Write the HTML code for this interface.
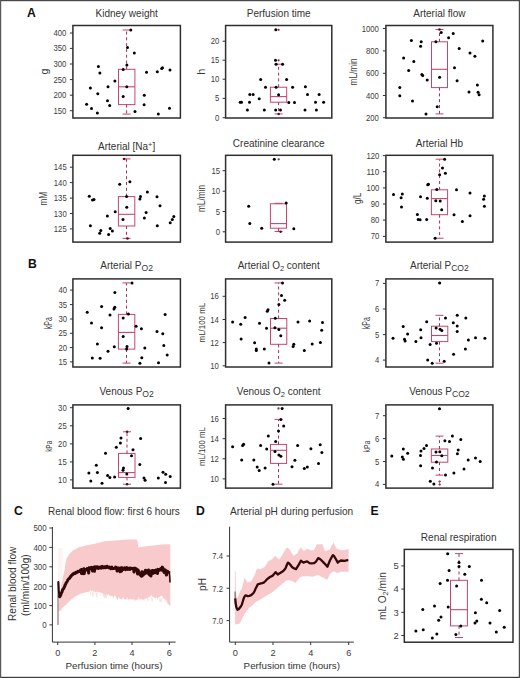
<!DOCTYPE html>
<html><head><meta charset="utf-8"><title>Figure</title>
<style>html,body{margin:0;padding:0;background:#fff;}body{width:520px;height:678px;overflow:hidden;font-family:"Liberation Sans", sans-serif;}svg{display:block;}</style>
</head><body>
<svg width="520" height="678" viewBox="0 0 520 678" font-family='"Liberation Sans", sans-serif'><rect x="0" y="0" width="520" height="678" fill="#fff"/>
<text x="126.65" y="16.6" text-anchor="middle" font-size="10" fill="#333" xml:space="preserve"><tspan dy="0">Kidney weight</tspan></text>
<line x1="69.9" y1="33" x2="72.9" y2="33" stroke="#333" stroke-width="1"/>
<text x="66.3" y="36" text-anchor="end" font-size="8.8" fill="#3c3c3c" textLength="12.9" lengthAdjust="spacingAndGlyphs">400</text>
<line x1="69.9" y1="48.4" x2="72.9" y2="48.4" stroke="#333" stroke-width="1"/>
<text x="66.3" y="51.4" text-anchor="end" font-size="8.8" fill="#3c3c3c" textLength="12.9" lengthAdjust="spacingAndGlyphs">350</text>
<line x1="69.9" y1="64" x2="72.9" y2="64" stroke="#333" stroke-width="1"/>
<text x="66.3" y="67" text-anchor="end" font-size="8.8" fill="#3c3c3c" textLength="12.9" lengthAdjust="spacingAndGlyphs">300</text>
<line x1="69.9" y1="79.6" x2="72.9" y2="79.6" stroke="#333" stroke-width="1"/>
<text x="66.3" y="82.6" text-anchor="end" font-size="8.8" fill="#3c3c3c" textLength="12.9" lengthAdjust="spacingAndGlyphs">250</text>
<line x1="69.9" y1="95.2" x2="72.9" y2="95.2" stroke="#333" stroke-width="1"/>
<text x="66.3" y="98.2" text-anchor="end" font-size="8.8" fill="#3c3c3c" textLength="12.9" lengthAdjust="spacingAndGlyphs">200</text>
<line x1="69.9" y1="110.7" x2="72.9" y2="110.7" stroke="#333" stroke-width="1"/>
<text x="66.3" y="113.7" text-anchor="end" font-size="8.8" fill="#3c3c3c" textLength="12.9" lengthAdjust="spacingAndGlyphs">150</text>
<text transform="translate(44.64,71.49) rotate(-90)" text-anchor="middle" font-size="10.61" fill="#3c3c3c" y="3.1">g</text>
<g stroke="#c4466c" fill="none">
<rect x="118.5" y="69.3" width="16.4" height="35.3" stroke-width="1"/>
<line x1="118.5" y1="86.8" x2="134.9" y2="86.8" stroke-width="1.1"/>
<line x1="126.6" y1="69.3" x2="126.6" y2="30" stroke-width="1" stroke="#a83050" stroke-dasharray="3,2.8"/>
<line x1="126.6" y1="104.6" x2="126.6" y2="114.1" stroke-width="1" stroke="#a83050" stroke-dasharray="3,2.8"/>
<line x1="122.6" y1="30" x2="130.6" y2="30" stroke-width="1"/>
<line x1="122.6" y1="114.1" x2="130.6" y2="114.1" stroke-width="1"/>
</g>
<g fill="#000"><circle cx="130.8" cy="29.9" r="1.5"/><circle cx="127.5" cy="47.4" r="1.5"/><circle cx="134.3" cy="53.1" r="1.5"/><circle cx="98.4" cy="66.5" r="1.5"/><circle cx="126.9" cy="65.1" r="1.5"/><circle cx="123.2" cy="69.4" r="1.5"/><circle cx="99.9" cy="73.1" r="1.5"/><circle cx="146.5" cy="72.2" r="1.5"/><circle cx="157.3" cy="71.8" r="1.5"/><circle cx="161.7" cy="68.6" r="1.5"/><circle cx="162.5" cy="67.8" r="1.5"/><circle cx="170" cy="70.1" r="1.5"/><circle cx="114.9" cy="80.9" r="1.5"/><circle cx="90.4" cy="87.9" r="1.5"/><circle cx="108" cy="86.8" r="1.5"/><circle cx="126.8" cy="86.8" r="1.5"/><circle cx="97.8" cy="93.8" r="1.5"/><circle cx="123.2" cy="96.6" r="1.5"/><circle cx="144.3" cy="95.3" r="1.5"/><circle cx="86.6" cy="104.2" r="1.5"/><circle cx="107.5" cy="100.8" r="1.5"/><circle cx="109.7" cy="105.4" r="1.5"/><circle cx="144.1" cy="104.8" r="1.5"/><circle cx="91.5" cy="108.4" r="1.5"/><circle cx="97.4" cy="112.9" r="1.5"/><circle cx="135" cy="111.4" r="1.5"/><circle cx="158.3" cy="113.9" r="1.5"/><circle cx="169.5" cy="108.2" r="1.5"/></g>
<rect x="72.9" y="25.5" width="107.5" height="92.5" fill="none" stroke="#2e2e2e" stroke-width="1.5"/>
<text x="278.7" y="16.8" text-anchor="middle" font-size="10" fill="#333" xml:space="preserve"><tspan dy="0">Perfusion time</tspan></text>
<line x1="222.6" y1="41.2" x2="225.6" y2="41.2" stroke="#333" stroke-width="1"/>
<text x="219.3" y="44.2" text-anchor="end" font-size="8.8" fill="#3c3c3c" textLength="8.6" lengthAdjust="spacingAndGlyphs">20</text>
<line x1="222.6" y1="60.2" x2="225.6" y2="60.2" stroke="#333" stroke-width="1"/>
<text x="219.3" y="63.2" text-anchor="end" font-size="8.8" fill="#3c3c3c" textLength="8.6" lengthAdjust="spacingAndGlyphs">15</text>
<line x1="222.6" y1="79.2" x2="225.6" y2="79.2" stroke="#333" stroke-width="1"/>
<text x="219.3" y="82.2" text-anchor="end" font-size="8.8" fill="#3c3c3c" textLength="8.6" lengthAdjust="spacingAndGlyphs">10</text>
<line x1="222.6" y1="98.4" x2="225.6" y2="98.4" stroke="#333" stroke-width="1"/>
<text x="219.3" y="101.4" text-anchor="end" font-size="8.8" fill="#3c3c3c" textLength="4.3" lengthAdjust="spacingAndGlyphs">5</text>
<line x1="222.6" y1="117.7" x2="225.6" y2="117.7" stroke="#333" stroke-width="1"/>
<text x="219.3" y="120.7" text-anchor="end" font-size="8.8" fill="#3c3c3c" textLength="4.3" lengthAdjust="spacingAndGlyphs">0</text>
<text transform="translate(201.4,71.72) rotate(-90)" text-anchor="middle" font-size="10.94" fill="#3c3c3c" y="3.1">h</text>
<g stroke="#c4466c" fill="none">
<rect x="270.4" y="87.2" width="16.3" height="15" stroke-width="1"/>
<line x1="270.4" y1="96.6" x2="286.7" y2="96.6" stroke-width="1.1"/>
<line x1="278.6" y1="87.2" x2="278.6" y2="64.2" stroke-width="1" stroke="#a83050" stroke-dasharray="3,2.8"/>
<line x1="278.6" y1="102.2" x2="278.6" y2="113.9" stroke-width="1" stroke="#a83050" stroke-dasharray="3,2.8"/>
<line x1="274.6" y1="64.2" x2="282.6" y2="64.2" stroke-width="1"/>
<line x1="274.6" y1="113.9" x2="282.6" y2="113.9" stroke-width="1"/>
</g>
<circle cx="278.6" cy="29.8" r="1.15" fill="#7a3a52"/>
<circle cx="278.6" cy="60.3" r="1.15" fill="#7a3a52"/>
<circle cx="278.7" cy="113.9" r="1.25" fill="#5a0c1c"/>
<g fill="#000"><circle cx="275.8" cy="29.8" r="1.5"/><circle cx="275.5" cy="60.3" r="1.5"/><circle cx="276.1" cy="64.2" r="1.5"/><circle cx="282.6" cy="64.2" r="1.5"/><circle cx="260.7" cy="79.5" r="1.5"/><circle cx="286.6" cy="79.5" r="1.5"/><circle cx="265.5" cy="87.2" r="1.5"/><circle cx="276.1" cy="87.2" r="1.5"/><circle cx="292.6" cy="87.2" r="1.5"/><circle cx="305.4" cy="86.8" r="1.5"/><circle cx="249.8" cy="94.4" r="1.5"/><circle cx="253.1" cy="94.4" r="1.5"/><circle cx="278.6" cy="94.8" r="1.5"/><circle cx="307.5" cy="94.4" r="1.5"/><circle cx="319.1" cy="94.4" r="1.5"/><circle cx="259.2" cy="98.7" r="1.5"/><circle cx="240.2" cy="102.3" r="1.5"/><circle cx="241.5" cy="102.3" r="1.5"/><circle cx="249.5" cy="102.3" r="1.5"/><circle cx="288.8" cy="102.6" r="1.5"/><circle cx="294.5" cy="102.6" r="1.5"/><circle cx="315.5" cy="102.3" r="1.5"/><circle cx="323.6" cy="102.3" r="1.5"/><circle cx="247.4" cy="109.9" r="1.5"/><circle cx="264.3" cy="110.1" r="1.5"/><circle cx="275.7" cy="110.1" r="1.5"/><circle cx="280.5" cy="110.1" r="1.5"/><circle cx="305" cy="109.9" r="1.5"/><circle cx="316.4" cy="109.9" r="1.5"/></g>
<rect x="225.6" y="25.5" width="106.2" height="92.5" fill="none" stroke="#2e2e2e" stroke-width="1.5"/>
<text x="439.4" y="16.8" text-anchor="middle" font-size="10" fill="#333" xml:space="preserve"><tspan dy="0">Arterial flow</tspan></text>
<line x1="382.9" y1="28.5" x2="385.9" y2="28.5" stroke="#333" stroke-width="1"/>
<text x="378.9" y="31.5" text-anchor="end" font-size="8.8" fill="#3c3c3c" textLength="17.2" lengthAdjust="spacingAndGlyphs">1000</text>
<line x1="382.9" y1="50.9" x2="385.9" y2="50.9" stroke="#333" stroke-width="1"/>
<text x="378.9" y="53.9" text-anchor="end" font-size="8.8" fill="#3c3c3c" textLength="12.9" lengthAdjust="spacingAndGlyphs">800</text>
<line x1="382.9" y1="73.3" x2="385.9" y2="73.3" stroke="#333" stroke-width="1"/>
<text x="378.9" y="76.3" text-anchor="end" font-size="8.8" fill="#3c3c3c" textLength="12.9" lengthAdjust="spacingAndGlyphs">600</text>
<line x1="382.9" y1="95.5" x2="385.9" y2="95.5" stroke="#333" stroke-width="1"/>
<text x="378.9" y="98.5" text-anchor="end" font-size="8.8" fill="#3c3c3c" textLength="12.9" lengthAdjust="spacingAndGlyphs">400</text>
<line x1="382.9" y1="117.7" x2="385.9" y2="117.7" stroke="#333" stroke-width="1"/>
<text x="378.9" y="120.7" text-anchor="end" font-size="8.8" fill="#3c3c3c" textLength="12.9" lengthAdjust="spacingAndGlyphs">200</text>
<text transform="translate(353.47,71.87) rotate(-90)" text-anchor="middle" font-size="11" fill="#3c3c3c" y="3.1" textLength="27.1" lengthAdjust="spacingAndGlyphs">mL/min</text>
<g stroke="#c4466c" fill="none">
<rect x="431.5" y="41.8" width="16" height="45.8" stroke-width="1"/>
<line x1="431.5" y1="69.3" x2="447.5" y2="69.3" stroke-width="1.1"/>
<line x1="439.5" y1="41.8" x2="439.5" y2="29.5" stroke-width="1" stroke="#a83050" stroke-dasharray="3,2.8"/>
<line x1="439.5" y1="87.6" x2="439.5" y2="113.9" stroke-width="1" stroke="#a83050" stroke-dasharray="3,2.8"/>
<line x1="435.5" y1="29.5" x2="443.5" y2="29.5" stroke-width="1"/>
<line x1="435.5" y1="113.9" x2="443.5" y2="113.9" stroke-width="1"/>
</g>
<circle cx="439.5" cy="29.5" r="1.25" fill="#5a0c1c"/>
<g fill="#000"><circle cx="441.2" cy="32.6" r="1.5"/><circle cx="453.2" cy="33.6" r="1.5"/><circle cx="448.6" cy="37.8" r="1.5"/><circle cx="411.4" cy="40.5" r="1.5"/><circle cx="421.2" cy="41.8" r="1.5"/><circle cx="420.6" cy="46.3" r="1.5"/><circle cx="435.9" cy="41.8" r="1.5"/><circle cx="482.7" cy="40.9" r="1.5"/><circle cx="459.2" cy="48.4" r="1.5"/><circle cx="470" cy="53" r="1.5"/><circle cx="474.9" cy="56.2" r="1.5"/><circle cx="403.6" cy="58.1" r="1.5"/><circle cx="413.8" cy="61.4" r="1.5"/><circle cx="408.7" cy="70.5" r="1.5"/><circle cx="454.5" cy="67.7" r="1.5"/><circle cx="421.9" cy="74.4" r="1.5"/><circle cx="422.7" cy="75.6" r="1.5"/><circle cx="427.2" cy="79.9" r="1.5"/><circle cx="439.6" cy="77.2" r="1.5"/><circle cx="457.1" cy="80.8" r="1.5"/><circle cx="477.4" cy="85.1" r="1.5"/><circle cx="399.8" cy="87.5" r="1.5"/><circle cx="469" cy="92.1" r="1.5"/><circle cx="478.1" cy="92.3" r="1.5"/><circle cx="479.1" cy="94.7" r="1.5"/><circle cx="399.8" cy="95.7" r="1.5"/><circle cx="412.5" cy="101" r="1.5"/><circle cx="437.2" cy="106.7" r="1.5"/><circle cx="426" cy="114" r="1.5"/></g>
<rect x="385.9" y="25.5" width="107" height="92.5" fill="none" stroke="#2e2e2e" stroke-width="1.5"/>
<text x="126.65" y="150.1" text-anchor="middle" font-size="10" fill="#333" xml:space="preserve"><tspan dy="0">Arterial [Na</tspan><tspan font-size="7.4" dy="-3">+</tspan><tspan dy="3">]</tspan></text>
<line x1="69.9" y1="167.2" x2="72.9" y2="167.2" stroke="#333" stroke-width="1"/>
<text x="66.7" y="170.2" text-anchor="end" font-size="8.8" fill="#3c3c3c" textLength="12.9" lengthAdjust="spacingAndGlyphs">145</text>
<line x1="69.9" y1="182.6" x2="72.9" y2="182.6" stroke="#333" stroke-width="1"/>
<text x="66.7" y="185.6" text-anchor="end" font-size="8.8" fill="#3c3c3c" textLength="12.9" lengthAdjust="spacingAndGlyphs">140</text>
<line x1="69.9" y1="198.1" x2="72.9" y2="198.1" stroke="#333" stroke-width="1"/>
<text x="66.7" y="201.1" text-anchor="end" font-size="8.8" fill="#3c3c3c" textLength="12.9" lengthAdjust="spacingAndGlyphs">135</text>
<line x1="69.9" y1="213.5" x2="72.9" y2="213.5" stroke="#333" stroke-width="1"/>
<text x="66.7" y="216.5" text-anchor="end" font-size="8.8" fill="#3c3c3c" textLength="12.9" lengthAdjust="spacingAndGlyphs">130</text>
<line x1="69.9" y1="228.9" x2="72.9" y2="228.9" stroke="#333" stroke-width="1"/>
<text x="66.7" y="231.9" text-anchor="end" font-size="8.8" fill="#3c3c3c" textLength="12.9" lengthAdjust="spacingAndGlyphs">125</text>
<text transform="translate(44.34,198.66) rotate(-90)" text-anchor="middle" font-size="10" fill="#3c3c3c" y="3.1" textLength="13.78" lengthAdjust="spacingAndGlyphs">mM</text>
<g stroke="#c4466c" fill="none">
<rect x="118.4" y="196.6" width="16.4" height="29.4" stroke-width="1"/>
<line x1="118.4" y1="214.3" x2="134.8" y2="214.3" stroke-width="1.1"/>
<line x1="126.5" y1="196.6" x2="126.5" y2="158.9" stroke-width="1" stroke="#a83050" stroke-dasharray="3,2.8"/>
<line x1="126.5" y1="226" x2="126.5" y2="238.4" stroke-width="1" stroke="#a83050" stroke-dasharray="3,2.8"/>
<line x1="122.5" y1="158.9" x2="130.5" y2="158.9" stroke-width="1"/>
<line x1="122.5" y1="238.4" x2="130.5" y2="238.4" stroke-width="1"/>
</g>
<circle cx="124.2" cy="158.9" r="1.25" fill="#5a0c1c"/>
<circle cx="127.5" cy="238.4" r="1.25" fill="#5a0c1c"/>
<g fill="#000"><circle cx="129.9" cy="181.7" r="1.5"/><circle cx="119.7" cy="184.3" r="1.5"/><circle cx="147.4" cy="191.9" r="1.5"/><circle cx="89.3" cy="196.3" r="1.5"/><circle cx="92.5" cy="199.9" r="1.5"/><circle cx="94" cy="199.5" r="1.5"/><circle cx="126.6" cy="196.6" r="1.5"/><circle cx="140.5" cy="196.4" r="1.5"/><circle cx="139.9" cy="199" r="1.5"/><circle cx="157" cy="196.7" r="1.5"/><circle cx="126.8" cy="207.2" r="1.5"/><circle cx="160" cy="205.8" r="1.5"/><circle cx="115.2" cy="211.7" r="1.5"/><circle cx="146.1" cy="212.4" r="1.5"/><circle cx="107.4" cy="216.1" r="1.5"/><circle cx="144.4" cy="217.9" r="1.5"/><circle cx="173.8" cy="216.6" r="1.5"/><circle cx="172.3" cy="219.4" r="1.5"/><circle cx="170.2" cy="222.8" r="1.5"/><circle cx="123" cy="219.5" r="1.5"/><circle cx="90.4" cy="225.7" r="1.5"/><circle cx="157.3" cy="225.7" r="1.5"/><circle cx="100.8" cy="230.4" r="1.5"/><circle cx="99.7" cy="233.3" r="1.5"/><circle cx="110.2" cy="228.4" r="1.5"/><circle cx="112.4" cy="230.9" r="1.5"/><circle cx="108.6" cy="234.5" r="1.5"/></g>
<rect x="72.9" y="155.3" width="107.5" height="86.8" fill="none" stroke="#2e2e2e" stroke-width="1.5"/>
<text x="278.7" y="146.9" text-anchor="middle" font-size="10" fill="#333" xml:space="preserve"><tspan dy="0">Creatinine clearance</tspan></text>
<line x1="222.6" y1="170.7" x2="225.6" y2="170.7" stroke="#333" stroke-width="1"/>
<text x="220.1" y="173.7" text-anchor="end" font-size="8.8" fill="#3c3c3c" textLength="8.6" lengthAdjust="spacingAndGlyphs">15</text>
<line x1="222.6" y1="191.2" x2="225.6" y2="191.2" stroke="#333" stroke-width="1"/>
<text x="220.1" y="194.2" text-anchor="end" font-size="8.8" fill="#3c3c3c" textLength="8.6" lengthAdjust="spacingAndGlyphs">10</text>
<line x1="222.6" y1="211.5" x2="225.6" y2="211.5" stroke="#333" stroke-width="1"/>
<text x="220.1" y="214.5" text-anchor="end" font-size="8.8" fill="#3c3c3c" textLength="4.3" lengthAdjust="spacingAndGlyphs">5</text>
<line x1="222.6" y1="231.8" x2="225.6" y2="231.8" stroke="#333" stroke-width="1"/>
<text x="220.1" y="234.8" text-anchor="end" font-size="8.8" fill="#3c3c3c" textLength="4.3" lengthAdjust="spacingAndGlyphs">0</text>
<text transform="translate(202.3,198.49) rotate(-90)" text-anchor="middle" font-size="10.47" fill="#3c3c3c" y="3.1" textLength="27.22" lengthAdjust="spacingAndGlyphs">mL/min</text>
<g stroke="#c4466c" fill="none">
<rect x="270.4" y="203.8" width="16.1" height="24.4" stroke-width="1"/>
<line x1="270.4" y1="223.6" x2="286.5" y2="223.6" stroke-width="1.1"/>
<line x1="278.6" y1="228.2" x2="278.6" y2="231.5" stroke-width="1" stroke="#a83050" stroke-dasharray="3,2.8"/>
<line x1="274.6" y1="203.3" x2="282.6" y2="203.3" stroke-width="1"/>
<line x1="274.6" y1="231.5" x2="282.6" y2="231.5" stroke-width="1"/>
</g>
<circle cx="278.7" cy="159.3" r="1.15" fill="#7a3a52"/>
<circle cx="280.6" cy="231.8" r="1.25" fill="#5a0c1c"/>
<g fill="#000"><circle cx="274.3" cy="159.3" r="1.5"/><circle cx="248.7" cy="206.3" r="1.5"/><circle cx="286.2" cy="202.9" r="1.5"/><circle cx="249.8" cy="223.6" r="1.5"/><circle cx="261.7" cy="228.2" r="1.5"/><circle cx="293.8" cy="228.8" r="1.5"/></g>
<rect x="225.6" y="155.3" width="106.2" height="86.8" fill="none" stroke="#2e2e2e" stroke-width="1.5"/>
<text x="439.4" y="146.9" text-anchor="middle" font-size="10" fill="#333" xml:space="preserve"><tspan dy="0">Arterial Hb</tspan></text>
<line x1="382.9" y1="155.6" x2="385.9" y2="155.6" stroke="#333" stroke-width="1"/>
<text x="379.3" y="158.6" text-anchor="end" font-size="8.8" fill="#3c3c3c" textLength="12.9" lengthAdjust="spacingAndGlyphs">120</text>
<line x1="382.9" y1="171.7" x2="385.9" y2="171.7" stroke="#333" stroke-width="1"/>
<text x="379.3" y="174.7" text-anchor="end" font-size="8.8" fill="#3c3c3c" textLength="12.9" lengthAdjust="spacingAndGlyphs">110</text>
<line x1="382.9" y1="187.9" x2="385.9" y2="187.9" stroke="#333" stroke-width="1"/>
<text x="379.3" y="190.9" text-anchor="end" font-size="8.8" fill="#3c3c3c" textLength="12.9" lengthAdjust="spacingAndGlyphs">100</text>
<line x1="382.9" y1="204" x2="385.9" y2="204" stroke="#333" stroke-width="1"/>
<text x="379.3" y="207" text-anchor="end" font-size="8.8" fill="#3c3c3c" textLength="8.6" lengthAdjust="spacingAndGlyphs">90</text>
<line x1="382.9" y1="220.1" x2="385.9" y2="220.1" stroke="#333" stroke-width="1"/>
<text x="379.3" y="223.1" text-anchor="end" font-size="8.8" fill="#3c3c3c" textLength="8.6" lengthAdjust="spacingAndGlyphs">80</text>
<line x1="382.9" y1="236.4" x2="385.9" y2="236.4" stroke="#333" stroke-width="1"/>
<text x="379.3" y="239.4" text-anchor="end" font-size="8.8" fill="#3c3c3c" textLength="8.6" lengthAdjust="spacingAndGlyphs">70</text>
<text transform="translate(357.74,198.31) rotate(-90)" text-anchor="middle" font-size="9.99" fill="#3c3c3c" y="3.1" textLength="11.22" lengthAdjust="spacingAndGlyphs">g/L</text>
<g stroke="#c4466c" fill="none">
<rect x="431.4" y="189.8" width="16.2" height="24.9" stroke-width="1"/>
<line x1="431.4" y1="198.6" x2="447.6" y2="198.6" stroke-width="1.1"/>
<line x1="439.6" y1="189.8" x2="439.6" y2="159.2" stroke-width="1" stroke="#a83050" stroke-dasharray="3,2.8"/>
<line x1="439.6" y1="214.7" x2="439.6" y2="238.2" stroke-width="1" stroke="#a83050" stroke-dasharray="3,2.8"/>
<line x1="435.6" y1="159.2" x2="443.6" y2="159.2" stroke-width="1"/>
<line x1="435.6" y1="238.2" x2="443.6" y2="238.2" stroke-width="1"/>
</g>
<g fill="#000"><circle cx="444.6" cy="159.2" r="1.5"/><circle cx="442.5" cy="168" r="1.5"/><circle cx="445.4" cy="173.2" r="1.5"/><circle cx="439.6" cy="174.8" r="1.5"/><circle cx="428.5" cy="184.2" r="1.5"/><circle cx="427.7" cy="184.8" r="1.5"/><circle cx="436.8" cy="189.5" r="1.5"/><circle cx="456.5" cy="189.8" r="1.5"/><circle cx="393.5" cy="194.4" r="1.5"/><circle cx="402.3" cy="194" r="1.5"/><circle cx="401.1" cy="197.8" r="1.5"/><circle cx="420.5" cy="196.7" r="1.5"/><circle cx="427.3" cy="198.2" r="1.5"/><circle cx="470" cy="192.9" r="1.5"/><circle cx="484.4" cy="196.1" r="1.5"/><circle cx="483.6" cy="199.3" r="1.5"/><circle cx="435.8" cy="200.8" r="1.5"/><circle cx="440.2" cy="201" r="1.5"/><circle cx="401.5" cy="207.1" r="1.5"/><circle cx="484.4" cy="206.3" r="1.5"/><circle cx="441.7" cy="209.8" r="1.5"/><circle cx="417.4" cy="214.5" r="1.5"/><circle cx="454" cy="214.7" r="1.5"/><circle cx="470" cy="215.8" r="1.5"/><circle cx="418.2" cy="219.4" r="1.5"/><circle cx="420.1" cy="219.8" r="1.5"/><circle cx="426.7" cy="219.4" r="1.5"/><circle cx="462.4" cy="221.5" r="1.5"/><circle cx="435.1" cy="238.2" r="1.5"/></g>
<rect x="385.9" y="155.3" width="107" height="86.8" fill="none" stroke="#2e2e2e" stroke-width="1.5"/>
<text x="126.65" y="268.5" text-anchor="middle" font-size="10" fill="#333" xml:space="preserve"><tspan dy="0">Arterial P</tspan><tspan font-size="8.6" dy="2.1">O2</tspan></text>
<line x1="69.9" y1="290.1" x2="72.9" y2="290.1" stroke="#333" stroke-width="1"/>
<text x="67" y="293.1" text-anchor="end" font-size="8.8" fill="#3c3c3c" textLength="8.6" lengthAdjust="spacingAndGlyphs">40</text>
<line x1="69.9" y1="304.6" x2="72.9" y2="304.6" stroke="#333" stroke-width="1"/>
<text x="67" y="307.6" text-anchor="end" font-size="8.8" fill="#3c3c3c" textLength="8.6" lengthAdjust="spacingAndGlyphs">35</text>
<line x1="69.9" y1="319" x2="72.9" y2="319" stroke="#333" stroke-width="1"/>
<text x="67" y="322" text-anchor="end" font-size="8.8" fill="#3c3c3c" textLength="8.6" lengthAdjust="spacingAndGlyphs">30</text>
<line x1="69.9" y1="333.3" x2="72.9" y2="333.3" stroke="#333" stroke-width="1"/>
<text x="67" y="336.3" text-anchor="end" font-size="8.8" fill="#3c3c3c" textLength="8.6" lengthAdjust="spacingAndGlyphs">25</text>
<line x1="69.9" y1="347.6" x2="72.9" y2="347.6" stroke="#333" stroke-width="1"/>
<text x="67" y="350.6" text-anchor="end" font-size="8.8" fill="#3c3c3c" textLength="8.6" lengthAdjust="spacingAndGlyphs">20</text>
<line x1="69.9" y1="361.9" x2="72.9" y2="361.9" stroke="#333" stroke-width="1"/>
<text x="67" y="364.9" text-anchor="end" font-size="8.8" fill="#3c3c3c" textLength="8.6" lengthAdjust="spacingAndGlyphs">15</text>
<text transform="translate(48.78,323.16) rotate(-90)" text-anchor="middle" font-size="10.47" fill="#3c3c3c" y="3.1" textLength="12.02" lengthAdjust="spacingAndGlyphs">kPa</text>
<g stroke="#c4466c" fill="none">
<rect x="118.4" y="314.4" width="16.4" height="34.7" stroke-width="1"/>
<line x1="118.4" y1="332.4" x2="134.8" y2="332.4" stroke-width="1.1"/>
<line x1="126.5" y1="314.4" x2="126.5" y2="282.9" stroke-width="1" stroke="#a83050" stroke-dasharray="3,2.8"/>
<line x1="126.5" y1="349.1" x2="126.5" y2="363.1" stroke-width="1" stroke="#a83050" stroke-dasharray="3,2.8"/>
<line x1="122.5" y1="282.9" x2="130.5" y2="282.9" stroke-width="1"/>
<line x1="122.5" y1="363.1" x2="130.5" y2="363.1" stroke-width="1"/>
</g>
<g fill="#000"><circle cx="132" cy="282.9" r="1.5"/><circle cx="114.9" cy="292.4" r="1.5"/><circle cx="101.6" cy="306.4" r="1.5"/><circle cx="114.8" cy="307.2" r="1.5"/><circle cx="114" cy="309.1" r="1.5"/><circle cx="87.2" cy="312.3" r="1.5"/><circle cx="110" cy="315.1" r="1.5"/><circle cx="128.4" cy="314" r="1.5"/><circle cx="165.1" cy="314.4" r="1.5"/><circle cx="123.2" cy="318" r="1.5"/><circle cx="91.5" cy="322.9" r="1.5"/><circle cx="101.6" cy="327.8" r="1.5"/><circle cx="136.1" cy="326.3" r="1.5"/><circle cx="141.4" cy="328.8" r="1.5"/><circle cx="157" cy="331.6" r="1.5"/><circle cx="162.8" cy="333.7" r="1.5"/><circle cx="123.2" cy="336.4" r="1.5"/><circle cx="97.4" cy="344.1" r="1.5"/><circle cx="114.3" cy="346.8" r="1.5"/><circle cx="127" cy="346.4" r="1.5"/><circle cx="126.6" cy="348.9" r="1.5"/><circle cx="163.8" cy="345.5" r="1.5"/><circle cx="144.8" cy="347.9" r="1.5"/><circle cx="108" cy="351.3" r="1.5"/><circle cx="167.2" cy="355.1" r="1.5"/><circle cx="92.3" cy="358" r="1.5"/><circle cx="100.1" cy="358.2" r="1.5"/><circle cx="141.8" cy="357.8" r="1.5"/><circle cx="139.9" cy="363.3" r="1.5"/><circle cx="158.5" cy="362.7" r="1.5"/></g>
<rect x="72.9" y="278.9" width="107.5" height="88.1" fill="none" stroke="#2e2e2e" stroke-width="1.5"/>
<text x="278.7" y="268.5" text-anchor="middle" font-size="10" fill="#333" xml:space="preserve"><tspan dy="0">Arterial O</tspan><tspan font-size="7.5" dy="2.2">2</tspan><tspan dy="-2.2"> content</tspan></text>
<line x1="222.6" y1="296.3" x2="225.6" y2="296.3" stroke="#333" stroke-width="1"/>
<text x="218.8" y="299.3" text-anchor="end" font-size="8.8" fill="#3c3c3c" textLength="8.6" lengthAdjust="spacingAndGlyphs">16</text>
<line x1="222.6" y1="319.5" x2="225.6" y2="319.5" stroke="#333" stroke-width="1"/>
<text x="218.8" y="322.5" text-anchor="end" font-size="8.8" fill="#3c3c3c" textLength="8.6" lengthAdjust="spacingAndGlyphs">14</text>
<line x1="222.6" y1="342.6" x2="225.6" y2="342.6" stroke="#333" stroke-width="1"/>
<text x="218.8" y="345.6" text-anchor="end" font-size="8.8" fill="#3c3c3c" textLength="8.6" lengthAdjust="spacingAndGlyphs">12</text>
<line x1="222.6" y1="365.8" x2="225.6" y2="365.8" stroke="#333" stroke-width="1"/>
<text x="218.8" y="368.8" text-anchor="end" font-size="8.8" fill="#3c3c3c" textLength="8.6" lengthAdjust="spacingAndGlyphs">10</text>
<text transform="translate(201.94,322.64) rotate(-90)" text-anchor="middle" font-size="9.98" fill="#3c3c3c" y="3.1" textLength="39.48" lengthAdjust="spacingAndGlyphs">mL/100 mL</text>
<g stroke="#c4466c" fill="none">
<rect x="270.5" y="318.5" width="16.3" height="25.8" stroke-width="1"/>
<line x1="270.5" y1="328.2" x2="286.8" y2="328.2" stroke-width="1.1"/>
<line x1="278.6" y1="318.5" x2="278.6" y2="282.9" stroke-width="1" stroke="#a83050" stroke-dasharray="3,2.8"/>
<line x1="278.6" y1="344.3" x2="278.6" y2="363.1" stroke-width="1" stroke="#a83050" stroke-dasharray="3,2.8"/>
<line x1="274.6" y1="282.9" x2="282.6" y2="282.9" stroke-width="1"/>
<line x1="274.6" y1="363.1" x2="282.6" y2="363.1" stroke-width="1"/>
</g>
<g fill="#000"><circle cx="282.5" cy="282.9" r="1.5"/><circle cx="281.5" cy="295.4" r="1.5"/><circle cx="284.7" cy="300.3" r="1.5"/><circle cx="278.9" cy="304.5" r="1.5"/><circle cx="268" cy="309.8" r="1.5"/><circle cx="267.3" cy="311.3" r="1.5"/><circle cx="245.1" cy="317.4" r="1.5"/><circle cx="232.6" cy="322.1" r="1.5"/><circle cx="240.7" cy="324.2" r="1.5"/><circle cx="259.5" cy="323.3" r="1.5"/><circle cx="275.3" cy="318.3" r="1.5"/><circle cx="298" cy="322.1" r="1.5"/><circle cx="309.6" cy="321" r="1.5"/><circle cx="322.5" cy="322.5" r="1.5"/><circle cx="266.5" cy="328.2" r="1.5"/><circle cx="274.9" cy="327.8" r="1.5"/><circle cx="278.9" cy="329.5" r="1.5"/><circle cx="321.7" cy="330.3" r="1.5"/><circle cx="280.8" cy="335.8" r="1.5"/><circle cx="241.1" cy="339" r="1.5"/><circle cx="254.6" cy="342.8" r="1.5"/><circle cx="256.3" cy="348.9" r="1.5"/><circle cx="256.3" cy="350.6" r="1.5"/><circle cx="264.3" cy="349.1" r="1.5"/><circle cx="293.8" cy="344.3" r="1.5"/><circle cx="293.1" cy="346.4" r="1.5"/><circle cx="312.2" cy="343.9" r="1.5"/><circle cx="320.4" cy="342.4" r="1.5"/><circle cx="304.3" cy="350.6" r="1.5"/><circle cx="269" cy="363.1" r="1.5"/></g>
<rect x="225.6" y="278.9" width="106.2" height="88.1" fill="none" stroke="#2e2e2e" stroke-width="1.5"/>
<text x="439.4" y="268.5" text-anchor="middle" font-size="10" fill="#333" xml:space="preserve"><tspan dy="0">Arterial P</tspan><tspan font-size="8.6" dy="2.1">CO2</tspan></text>
<line x1="382.9" y1="283.4" x2="385.9" y2="283.4" stroke="#333" stroke-width="1"/>
<text x="379.3" y="286.4" text-anchor="end" font-size="8.8" fill="#3c3c3c" textLength="4.3" lengthAdjust="spacingAndGlyphs">7</text>
<line x1="382.9" y1="309" x2="385.9" y2="309" stroke="#333" stroke-width="1"/>
<text x="379.3" y="312" text-anchor="end" font-size="8.8" fill="#3c3c3c" textLength="4.3" lengthAdjust="spacingAndGlyphs">6</text>
<line x1="382.9" y1="334.6" x2="385.9" y2="334.6" stroke="#333" stroke-width="1"/>
<text x="379.3" y="337.6" text-anchor="end" font-size="8.8" fill="#3c3c3c" textLength="4.3" lengthAdjust="spacingAndGlyphs">5</text>
<line x1="382.9" y1="360.1" x2="385.9" y2="360.1" stroke="#333" stroke-width="1"/>
<text x="379.3" y="363.1" text-anchor="end" font-size="8.8" fill="#3c3c3c" textLength="4.3" lengthAdjust="spacingAndGlyphs">4</text>
<text transform="translate(366.84,323.16) rotate(-90)" text-anchor="middle" font-size="10.61" fill="#3c3c3c" y="3.1" textLength="12.02" lengthAdjust="spacingAndGlyphs">kPa</text>
<g stroke="#c4466c" fill="none">
<rect x="431.5" y="326.2" width="16.3" height="15.4" stroke-width="1"/>
<line x1="431.5" y1="335.5" x2="447.8" y2="335.5" stroke-width="1.1"/>
<line x1="439.5" y1="326.2" x2="439.5" y2="315.3" stroke-width="1" stroke="#a83050" stroke-dasharray="3,2.8"/>
<line x1="439.5" y1="341.6" x2="439.5" y2="363.2" stroke-width="1" stroke="#a83050" stroke-dasharray="3,2.8"/>
<line x1="435.5" y1="315.3" x2="443.5" y2="315.3" stroke-width="1"/>
<line x1="435.5" y1="363.2" x2="443.5" y2="363.2" stroke-width="1"/>
</g>
<circle cx="439.6" cy="282.9" r="1.15" fill="#7a3a52"/>
<g fill="#000"><circle cx="439.6" cy="282.9" r="1.5"/><circle cx="445.5" cy="318.1" r="1.5"/><circle cx="457.2" cy="315.3" r="1.5"/><circle cx="465.8" cy="318" r="1.5"/><circle cx="426.7" cy="321.7" r="1.5"/><circle cx="453.3" cy="322.8" r="1.5"/><circle cx="403.2" cy="326.5" r="1.5"/><circle cx="457.2" cy="326.1" r="1.5"/><circle cx="436.1" cy="327.9" r="1.5"/><circle cx="440.1" cy="329.2" r="1.5"/><circle cx="441.8" cy="330.5" r="1.5"/><circle cx="420.7" cy="329.8" r="1.5"/><circle cx="457.2" cy="331.4" r="1.5"/><circle cx="407.6" cy="334.1" r="1.5"/><circle cx="393" cy="338.3" r="1.5"/><circle cx="404.5" cy="339.2" r="1.5"/><circle cx="405.1" cy="341.1" r="1.5"/><circle cx="421" cy="337.8" r="1.5"/><circle cx="475.5" cy="337.7" r="1.5"/><circle cx="484.9" cy="338.3" r="1.5"/><circle cx="468.4" cy="340" r="1.5"/><circle cx="415.9" cy="341.5" r="1.5"/><circle cx="430.1" cy="344.4" r="1.5"/><circle cx="436.5" cy="343.2" r="1.5"/><circle cx="465.4" cy="348.9" r="1.5"/><circle cx="453.6" cy="354.2" r="1.5"/><circle cx="427.7" cy="360" r="1.5"/><circle cx="432.2" cy="363.2" r="1.5"/><circle cx="444.2" cy="361.3" r="1.5"/></g>
<rect x="385.9" y="278.9" width="107" height="88.1" fill="none" stroke="#2e2e2e" stroke-width="1.5"/>
<text x="126.65" y="394.5" text-anchor="middle" font-size="10" fill="#333" xml:space="preserve"><tspan dy="0">Venous P</tspan><tspan font-size="8.6" dy="2.1">O2</tspan></text>
<line x1="69.9" y1="407.7" x2="72.9" y2="407.7" stroke="#333" stroke-width="1"/>
<text x="66.7" y="410.7" text-anchor="end" font-size="8.8" fill="#3c3c3c" textLength="8.6" lengthAdjust="spacingAndGlyphs">30</text>
<line x1="69.9" y1="425.8" x2="72.9" y2="425.8" stroke="#333" stroke-width="1"/>
<text x="66.7" y="428.8" text-anchor="end" font-size="8.8" fill="#3c3c3c" textLength="8.6" lengthAdjust="spacingAndGlyphs">25</text>
<line x1="69.9" y1="443.9" x2="72.9" y2="443.9" stroke="#333" stroke-width="1"/>
<text x="66.7" y="446.9" text-anchor="end" font-size="8.8" fill="#3c3c3c" textLength="8.6" lengthAdjust="spacingAndGlyphs">20</text>
<line x1="69.9" y1="461.9" x2="72.9" y2="461.9" stroke="#333" stroke-width="1"/>
<text x="66.7" y="464.9" text-anchor="end" font-size="8.8" fill="#3c3c3c" textLength="8.6" lengthAdjust="spacingAndGlyphs">15</text>
<line x1="69.9" y1="479.9" x2="72.9" y2="479.9" stroke="#333" stroke-width="1"/>
<text x="66.7" y="482.9" text-anchor="end" font-size="8.8" fill="#3c3c3c" textLength="8.6" lengthAdjust="spacingAndGlyphs">10</text>
<text transform="translate(48.42,446.34) rotate(-90)" text-anchor="middle" font-size="9.98" fill="#3c3c3c" y="3.1" textLength="11.08" lengthAdjust="spacingAndGlyphs">kPa</text>
<g stroke="#c4466c" fill="none">
<rect x="118.5" y="453.4" width="16.5" height="24" stroke-width="1"/>
<line x1="118.5" y1="472.6" x2="135" y2="472.6" stroke-width="1.1"/>
<line x1="127" y1="453.4" x2="127" y2="431.8" stroke-width="1" stroke="#a83050" stroke-dasharray="3,2.8"/>
<line x1="127" y1="477.4" x2="127" y2="484.2" stroke-width="1" stroke="#a83050" stroke-dasharray="3,2.8"/>
<line x1="123" y1="431.8" x2="131" y2="431.8" stroke-width="1"/>
<line x1="123" y1="484.2" x2="131" y2="484.2" stroke-width="1"/>
</g>
<circle cx="128.1" cy="408.4" r="1.15" fill="#7a3a52"/>
<circle cx="127.1" cy="431.8" r="1.25" fill="#5a0c1c"/>
<circle cx="127.1" cy="484.2" r="1.25" fill="#5a0c1c"/>
<g fill="#000"><circle cx="128.1" cy="408.4" r="1.5"/><circle cx="121" cy="437.9" r="1.5"/><circle cx="120.4" cy="443" r="1.5"/><circle cx="140.6" cy="438.5" r="1.5"/><circle cx="116.3" cy="447.2" r="1.5"/><circle cx="133" cy="449.8" r="1.5"/><circle cx="105.5" cy="453.2" r="1.5"/><circle cx="131.5" cy="455.8" r="1.5"/><circle cx="96.3" cy="465.2" r="1.5"/><circle cx="139.8" cy="464.4" r="1.5"/><circle cx="123.5" cy="468" r="1.5"/><circle cx="123" cy="470.3" r="1.5"/><circle cx="88.9" cy="473" r="1.5"/><circle cx="97.4" cy="472.6" r="1.5"/><circle cx="126.8" cy="473.9" r="1.5"/><circle cx="107.6" cy="475.4" r="1.5"/><circle cx="109.9" cy="477.4" r="1.5"/><circle cx="114.6" cy="477" r="1.5"/><circle cx="144" cy="478" r="1.5"/><circle cx="145.1" cy="480.3" r="1.5"/><circle cx="163" cy="472.2" r="1.5"/><circle cx="165.7" cy="474.3" r="1.5"/><circle cx="158.3" cy="478.1" r="1.5"/><circle cx="170.2" cy="476.6" r="1.5"/><circle cx="90.8" cy="480.9" r="1.5"/><circle cx="102" cy="483.2" r="1.5"/><circle cx="165.5" cy="482.5" r="1.5"/></g>
<rect x="72.9" y="404.9" width="107.5" height="83.2" fill="none" stroke="#2e2e2e" stroke-width="1.5"/>
<text x="278.7" y="394.5" text-anchor="middle" font-size="10" fill="#333" xml:space="preserve"><tspan dy="0">Venous O</tspan><tspan font-size="7.5" dy="2.2">2</tspan><tspan dy="-2.2"> content</tspan></text>
<line x1="222.6" y1="418.5" x2="225.6" y2="418.5" stroke="#333" stroke-width="1"/>
<text x="218.9" y="421.5" text-anchor="end" font-size="8.8" fill="#3c3c3c" textLength="8.6" lengthAdjust="spacingAndGlyphs">16</text>
<line x1="222.6" y1="438.7" x2="225.6" y2="438.7" stroke="#333" stroke-width="1"/>
<text x="218.9" y="441.7" text-anchor="end" font-size="8.8" fill="#3c3c3c" textLength="8.6" lengthAdjust="spacingAndGlyphs">14</text>
<line x1="222.6" y1="458.8" x2="225.6" y2="458.8" stroke="#333" stroke-width="1"/>
<text x="218.9" y="461.8" text-anchor="end" font-size="8.8" fill="#3c3c3c" textLength="8.6" lengthAdjust="spacingAndGlyphs">12</text>
<line x1="222.6" y1="478.9" x2="225.6" y2="478.9" stroke="#333" stroke-width="1"/>
<text x="218.9" y="481.9" text-anchor="end" font-size="8.8" fill="#3c3c3c" textLength="8.6" lengthAdjust="spacingAndGlyphs">10</text>
<text transform="translate(201.52,446.62) rotate(-90)" text-anchor="middle" font-size="9.48" fill="#3c3c3c" y="3.1" textLength="38.84" lengthAdjust="spacingAndGlyphs">mL/100 mL</text>
<g stroke="#c4466c" fill="none">
<rect x="270.5" y="444.4" width="16.1" height="19" stroke-width="1"/>
<line x1="270.5" y1="450.3" x2="286.6" y2="450.3" stroke-width="1.1"/>
<line x1="278.5" y1="444.4" x2="278.5" y2="419.4" stroke-width="1" stroke="#a83050" stroke-dasharray="3,2.8"/>
<line x1="278.5" y1="463.4" x2="278.5" y2="484.2" stroke-width="1" stroke="#a83050" stroke-dasharray="3,2.8"/>
<line x1="274.5" y1="419.4" x2="282.5" y2="419.4" stroke-width="1"/>
<line x1="274.5" y1="484.2" x2="282.5" y2="484.2" stroke-width="1"/>
</g>
<circle cx="278.5" cy="408.5" r="1.15" fill="#7a3a52"/>
<g fill="#000"><circle cx="282.1" cy="408.5" r="1.5"/><circle cx="280.9" cy="419.4" r="1.5"/><circle cx="283.7" cy="426.1" r="1.5"/><circle cx="278.5" cy="431" r="1.5"/><circle cx="268.3" cy="436" r="1.5"/><circle cx="275.7" cy="441.5" r="1.5"/><circle cx="260.6" cy="445.4" r="1.5"/><circle cx="297.6" cy="445.4" r="1.5"/><circle cx="232.6" cy="446.8" r="1.5"/><circle cx="242.6" cy="445.5" r="1.5"/><circle cx="243.6" cy="444.3" r="1.5"/><circle cx="320.2" cy="444.7" r="1.5"/><circle cx="310.9" cy="448.7" r="1.5"/><circle cx="266.7" cy="449" r="1.5"/><circle cx="275" cy="451.5" r="1.5"/><circle cx="321.9" cy="452.5" r="1.5"/><circle cx="278.9" cy="455" r="1.5"/><circle cx="280.9" cy="456.3" r="1.5"/><circle cx="241.7" cy="460.1" r="1.5"/><circle cx="253.8" cy="460.1" r="1.5"/><circle cx="294.9" cy="460.2" r="1.5"/><circle cx="318.5" cy="463.5" r="1.5"/><circle cx="257.2" cy="467.1" r="1.5"/><circle cx="259.2" cy="470.5" r="1.5"/><circle cx="265.1" cy="468.1" r="1.5"/><circle cx="292" cy="466.8" r="1.5"/><circle cx="307.3" cy="466.9" r="1.5"/><circle cx="304.3" cy="468.4" r="1.5"/><circle cx="273" cy="484.2" r="1.5"/></g>
<rect x="225.6" y="404.9" width="106.2" height="83.2" fill="none" stroke="#2e2e2e" stroke-width="1.5"/>
<text x="439.4" y="394.5" text-anchor="middle" font-size="10" fill="#333" xml:space="preserve"><tspan dy="0">Venous P</tspan><tspan font-size="8.6" dy="2.1">CO2</tspan></text>
<line x1="382.9" y1="415.7" x2="385.9" y2="415.7" stroke="#333" stroke-width="1"/>
<text x="379.3" y="418.7" text-anchor="end" font-size="8.8" fill="#3c3c3c" textLength="4.3" lengthAdjust="spacingAndGlyphs">7</text>
<line x1="382.9" y1="438.6" x2="385.9" y2="438.6" stroke="#333" stroke-width="1"/>
<text x="379.3" y="441.6" text-anchor="end" font-size="8.8" fill="#3c3c3c" textLength="4.3" lengthAdjust="spacingAndGlyphs">6</text>
<line x1="382.9" y1="461.5" x2="385.9" y2="461.5" stroke="#333" stroke-width="1"/>
<text x="379.3" y="464.5" text-anchor="end" font-size="8.8" fill="#3c3c3c" textLength="4.3" lengthAdjust="spacingAndGlyphs">5</text>
<line x1="382.9" y1="484.4" x2="385.9" y2="484.4" stroke="#333" stroke-width="1"/>
<text x="379.3" y="487.4" text-anchor="end" font-size="8.8" fill="#3c3c3c" textLength="4.3" lengthAdjust="spacingAndGlyphs">4</text>
<text transform="translate(366.42,446.6) rotate(-90)" text-anchor="middle" font-size="9.98" fill="#3c3c3c" y="3.1" textLength="11.72" lengthAdjust="spacingAndGlyphs">kPa</text>
<g stroke="#c4466c" fill="none">
<rect x="431.3" y="449" width="16.5" height="13.2" stroke-width="1"/>
<line x1="431.3" y1="455.5" x2="447.8" y2="455.5" stroke-width="1.1"/>
<line x1="439.5" y1="449" x2="439.5" y2="436.1" stroke-width="1" stroke="#a83050" stroke-dasharray="3,2.8"/>
<line x1="439.5" y1="462.2" x2="439.5" y2="475.1" stroke-width="1" stroke="#a83050" stroke-dasharray="3,2.8"/>
<line x1="435.5" y1="436.1" x2="443.5" y2="436.1" stroke-width="1"/>
<line x1="435.5" y1="475.1" x2="443.5" y2="475.1" stroke-width="1"/>
</g>
<circle cx="439.5" cy="408.8" r="1.15" fill="#7a3a52"/>
<g fill="#000"><circle cx="439.5" cy="408.8" r="1.5"/><circle cx="452.4" cy="436.1" r="1.5"/><circle cx="444.9" cy="440.8" r="1.5"/><circle cx="449.5" cy="441.5" r="1.5"/><circle cx="460.8" cy="439.5" r="1.5"/><circle cx="426.5" cy="445.4" r="1.5"/><circle cx="424" cy="448.4" r="1.5"/><circle cx="421" cy="450.9" r="1.5"/><circle cx="403.3" cy="449" r="1.5"/><circle cx="407.7" cy="453.3" r="1.5"/><circle cx="391.8" cy="455.9" r="1.5"/><circle cx="402.3" cy="456.9" r="1.5"/><circle cx="403.4" cy="459.3" r="1.5"/><circle cx="420.5" cy="455.5" r="1.5"/><circle cx="436" cy="452" r="1.5"/><circle cx="439.8" cy="451.8" r="1.5"/><circle cx="458.2" cy="449.9" r="1.5"/><circle cx="457.4" cy="453.7" r="1.5"/><circle cx="441.8" cy="455.8" r="1.5"/><circle cx="436.5" cy="462" r="1.5"/><circle cx="468.2" cy="460" r="1.5"/><circle cx="475.5" cy="458" r="1.5"/><circle cx="480.2" cy="461.4" r="1.5"/><circle cx="420.6" cy="465.7" r="1.5"/><circle cx="432.5" cy="468" r="1.5"/><circle cx="464" cy="469" r="1.5"/><circle cx="453.9" cy="472.9" r="1.5"/><circle cx="445.5" cy="475" r="1.5"/><circle cx="430.3" cy="481.2" r="1.5"/><circle cx="433.9" cy="484.1" r="1.5"/></g>
<rect x="385.9" y="404.9" width="107" height="83.2" fill="none" stroke="#2e2e2e" stroke-width="1.5"/>
<text x="458.65" y="540.8" text-anchor="middle" font-size="10" fill="#333" xml:space="preserve"><tspan dy="0">Renal respiration</tspan></text>
<line x1="401.3" y1="565.9" x2="404.3" y2="565.9" stroke="#333" stroke-width="1"/>
<text x="398.6" y="569.1" text-anchor="end" font-size="9.4" fill="#3c3c3c">5</text>
<line x1="401.3" y1="589.1" x2="404.3" y2="589.1" stroke="#333" stroke-width="1"/>
<text x="398.6" y="592.3" text-anchor="end" font-size="9.4" fill="#3c3c3c">4</text>
<line x1="401.3" y1="612.3" x2="404.3" y2="612.3" stroke="#333" stroke-width="1"/>
<text x="398.6" y="615.5" text-anchor="end" font-size="9.4" fill="#3c3c3c">3</text>
<line x1="401.3" y1="635.5" x2="404.3" y2="635.5" stroke="#333" stroke-width="1"/>
<text x="398.6" y="638.7" text-anchor="end" font-size="9.4" fill="#3c3c3c">2</text>
<g stroke="#c4466c" fill="none">
<rect x="450.5" y="580.3" width="16.9" height="45.6" stroke-width="1"/>
<line x1="450.5" y1="609.7" x2="467.4" y2="609.7" stroke-width="1.1"/>
<line x1="459" y1="580.3" x2="459" y2="553.6" stroke-width="1" stroke="#a83050" stroke-dasharray="3,2.8"/>
<line x1="459" y1="625.9" x2="459" y2="637.5" stroke-width="1" stroke="#a83050" stroke-dasharray="3,2.8"/>
<line x1="455" y1="553.6" x2="463" y2="553.6" stroke-width="1"/>
<line x1="455" y1="637.5" x2="463" y2="637.5" stroke-width="1"/>
</g>
<g fill="#000"><circle cx="447.7" cy="553.7" r="1.5"/><circle cx="459" cy="562.4" r="1.5"/><circle cx="459" cy="566.4" r="1.5"/><circle cx="469.3" cy="566.4" r="1.5"/><circle cx="449.1" cy="570.4" r="1.5"/><circle cx="464.8" cy="574.2" r="1.5"/><circle cx="447.5" cy="580.3" r="1.5"/><circle cx="440.1" cy="583.6" r="1.5"/><circle cx="481.5" cy="580.3" r="1.5"/><circle cx="456.6" cy="586" r="1.5"/><circle cx="481.4" cy="599.2" r="1.5"/><circle cx="486.7" cy="602.8" r="1.5"/><circle cx="434.5" cy="606.1" r="1.5"/><circle cx="448.2" cy="607.1" r="1.5"/><circle cx="422.8" cy="609.4" r="1.5"/><circle cx="499.7" cy="610.5" r="1.5"/><circle cx="475.4" cy="612.7" r="1.5"/><circle cx="441" cy="616.9" r="1.5"/><circle cx="438.7" cy="620.3" r="1.5"/><circle cx="476.8" cy="620.9" r="1.5"/><circle cx="475" cy="623.1" r="1.5"/><circle cx="490" cy="622.9" r="1.5"/><circle cx="460.8" cy="625.9" r="1.5"/><circle cx="504.2" cy="627.3" r="1.5"/><circle cx="415.9" cy="630.9" r="1.5"/><circle cx="423.2" cy="629.8" r="1.5"/><circle cx="496.3" cy="632" r="1.5"/><circle cx="436.8" cy="634.1" r="1.5"/><circle cx="455.9" cy="634.5" r="1.5"/><circle cx="432.3" cy="637.9" r="1.5"/></g>
<rect x="404.3" y="549.4" width="108.7" height="92.8" fill="none" stroke="#2e2e2e" stroke-width="1.5"/>
<g stroke="#a8304e" stroke-width="0.9"><line x1="439.7" y1="480.3" x2="439.7" y2="485.7"/><line x1="438.4" y1="481.4" x2="441" y2="481.4"/><line x1="438.4" y1="484.6" x2="441" y2="484.6"/></g>
<text transform="translate(382.5,596) rotate(-90)" text-anchor="middle" font-size="10.2" fill="#3c3c3c" y="3.6">mL O<tspan font-size="7.5" dy="2.2">2</tspan><tspan dy="-2.2">/min</tspan></text>
<path d="M57.8,548 L62.5,548 L62.5,611 L57.8,611 Z" fill="#fdf3f3"/>
<path d="M58.5,606 L59.5,597 L61.4,585 L63,577 L64.5,570 L65.5,563 L66.4,558.8 L69.3,554 L73.2,550.2 L78.9,547.3 L85.7,545.4 L92.4,544.2 L100,542.4 L104.6,541.2 L115.4,540.5 L126.2,539.6 L136.9,539.5 L137.7,542.3 L138.5,547.7 L140,546.9 L146.2,546.2 L153.8,545.4 L161.5,544.6 L169.2,544.2 L170.3,544.2 L170.3,606.5 L168.8,604.59 L167.8,603.71 L166.8,601 L165.8,599.18 L164.65,598.75 L163.5,598.47 L162.35,596.45 L161.2,595.4 L160,596.45 L158.8,597.5 L157.65,598.35 L156.5,597.32 L155.5,598.47 L154.5,597.73 L153.5,597 L152.47,596.73 L151.43,594.38 L150.4,596.2 L149.48,597.22 L148.56,597.12 L147.64,597.58 L146.72,598.04 L145.8,598.5 L144.88,598.64 L143.96,598.78 L143.04,601.02 L142.12,599.06 L141.2,599.2 L140.34,599.2 L139.49,598.17 L138.63,596.76 L137.78,599.2 L136.92,599.2 L136.07,600.71 L135.21,600.4 L134.36,599.2 L133.5,599.2 L132.64,599.2 L131.79,599.2 L130.93,599.2 L130.08,599.2 L129.22,599.2 L128.37,599.2 L127.51,596.94 L126.66,599.2 L125.8,599.2 L124.93,599.12 L124.07,599.04 L123.2,596.75 L122.33,598.89 L121.47,599.44 L120.6,598.73 L119.73,598.66 L118.87,596.42 L118,599.3 L117.12,600.14 L116.23,597.7 L115.35,595.46 L114.47,594.88 L113.58,598.76 L112.7,596.1 L111.87,595.86 L111.04,595.61 L110.21,596.03 L109.39,595.13 L108.56,593.75 L107.73,596.36 L106.9,593.53 L106.07,594.16 L105.24,596.33 L104.41,593.67 L103.59,594.85 L102.76,593.19 L101.93,592.94 L101.1,592.7 L100.29,592.53 L99.47,592.36 L98.66,592.19 L97.84,592.01 L97.03,591.84 L96.21,591.67 L95.4,592.6 L94.57,591.5 L93.74,591.5 L92.91,591.5 L92.09,589.99 L91.26,591.5 L90.43,589.65 L89.6,591.5 L88.68,591.7 L87.76,591.9 L86.84,592.1 L85.92,592.3 L85,592.5 L84.08,592.76 L83.16,593.02 L82.24,593.28 L81.32,593.54 L80.4,593.8 L79.48,594.26 L78.56,594.72 L77.64,595.18 L76.72,595.64 L75.8,596.1 L74.86,596.8 L73.92,597.5 L72.98,598.2 L72.04,598.9 L71.1,599.6 L70.18,600.52 L69.26,601.44 L68.34,602.36 L67.42,603.28 L66.5,604.2 L65.58,605.02 L64.66,605.84 L63.74,606.66 L62.82,607.48 L61.9,608.3 L60.75,609.65 L59.6,611 L58.6,611 Z" fill="#f8cacb"/>
<g fill="#f8cacb" opacity="0.55"><rect x="124.74" y="595.13" width="0.79" height="4.73"/><rect x="125.79" y="595.22" width="0.76" height="3.56"/><rect x="103.59" y="593.22" width="0.76" height="3.7"/><rect x="151.65" y="597.55" width="0.47" height="2.56"/><rect x="96.16" y="592.55" width="0.97" height="3.93"/><rect x="92.31" y="592.21" width="1.09" height="4.88"/><rect x="140.66" y="596.56" width="0.83" height="2.05"/><rect x="90.19" y="592.02" width="0.77" height="1.71"/><rect x="104.03" y="593.26" width="0.57" height="1.61"/><rect x="125.65" y="595.21" width="0.71" height="4.45"/><rect x="130.01" y="595.6" width="0.85" height="3.25"/><rect x="141.33" y="596.62" width="0.72" height="2.47"/><rect x="167.81" y="599" width="1.1" height="4.44"/><rect x="144.92" y="596.94" width="0.62" height="2.3"/><rect x="111.83" y="593.97" width="0.45" height="4.18"/><rect x="120.63" y="594.76" width="0.99" height="2.85"/><rect x="164.69" y="598.72" width="0.99" height="1.5"/><rect x="105.57" y="593.4" width="1.04" height="3.14"/><rect x="166.45" y="598.88" width="0.68" height="1.76"/><rect x="138.73" y="596.39" width="0.94" height="2.44"/><rect x="95.88" y="592.53" width="0.63" height="4.87"/><rect x="148.89" y="597.3" width="0.48" height="2.36"/><rect x="96.98" y="592.63" width="0.44" height="4.29"/><rect x="103.04" y="593.17" width="0.79" height="3.07"/><rect x="104.06" y="593.27" width="0.91" height="1.96"/><rect x="139.85" y="596.49" width="0.48" height="2.97"/><rect x="105.82" y="593.42" width="0.59" height="4.9"/><rect x="152.47" y="597.62" width="0.61" height="4.6"/><rect x="105.65" y="593.41" width="0.68" height="4.49"/><rect x="139.71" y="596.47" width="0.47" height="4.96"/><rect x="105.85" y="593.43" width="0.58" height="4.2"/><rect x="114.99" y="594.25" width="0.61" height="1.76"/><rect x="96.12" y="592.55" width="0.81" height="2.35"/><rect x="136.5" y="596.19" width="0.66" height="3.09"/><rect x="164.77" y="598.73" width="0.74" height="3.51"/><rect x="157.46" y="598.07" width="0.53" height="2.04"/><rect x="160.77" y="598.37" width="0.97" height="2.37"/><rect x="103.99" y="593.26" width="0.92" height="4.79"/><rect x="104.53" y="593.31" width="1.07" height="4.59"/><rect x="136.68" y="596.2" width="0.7" height="1.86"/><rect x="92.06" y="592.19" width="1.07" height="2.33"/><rect x="144.66" y="596.92" width="0.58" height="4.38"/><rect x="136.12" y="596.15" width="0.61" height="2.11"/><rect x="145.91" y="597.03" width="0.45" height="2.3"/><rect x="133.19" y="595.89" width="1" height="3.65"/><rect x="111.14" y="593.9" width="1.04" height="2.21"/><rect x="90.31" y="592.03" width="0.59" height="3.06"/><rect x="93.78" y="592.34" width="0.52" height="2.79"/><rect x="134.2" y="595.98" width="0.49" height="2.77"/><rect x="159.38" y="598.24" width="1.09" height="3.8"/><rect x="143.61" y="596.82" width="0.81" height="1.99"/><rect x="91.77" y="592.16" width="0.41" height="4.69"/><rect x="144.38" y="596.89" width="1.07" height="1.57"/><rect x="139.26" y="596.43" width="0.74" height="4.06"/><rect x="114.19" y="594.18" width="1.1" height="1.76"/><rect x="132.14" y="595.79" width="0.92" height="4.65"/><rect x="147.23" y="597.15" width="0.89" height="4.28"/><rect x="161.29" y="598.42" width="0.65" height="3.9"/><rect x="160.17" y="598.31" width="1.01" height="2.96"/><rect x="151.45" y="597.53" width="1" height="3.5"/><rect x="138.37" y="596.35" width="0.67" height="3.54"/><rect x="137.1" y="596.24" width="0.46" height="3.74"/><rect x="167.47" y="598.97" width="1.02" height="4.05"/><rect x="119.69" y="594.67" width="0.91" height="3.53"/><rect x="123.8" y="595.04" width="0.99" height="1.79"/><rect x="148.27" y="597.24" width="0.42" height="3.6"/><rect x="127" y="595.33" width="0.56" height="3.94"/><rect x="128.28" y="595.45" width="0.83" height="4.72"/><rect x="109.21" y="593.73" width="0.41" height="2.55"/><rect x="142.57" y="596.73" width="0.54" height="2.09"/></g>
<line x1="58" y1="581.8" x2="58" y2="624.9" stroke="#8a6a6a" stroke-width="1.1"/>
<path d="M58.4,581.9 L58.8,590 L59.3,597.2" fill="none" stroke="#320808" stroke-width="2" stroke-linecap="round"/>
<path d="M59.2,597.32 L59.75,596.59 L60.3,595.8 L60.85,594.54 L61.4,592.94 L62.05,591.77 L62.7,589.53 L63.17,589.07 L63.63,588.64 L64.1,587.45 L64.57,586.77 L65.03,585.05 L65.5,584.47 L66.15,582.95 L66.8,581.94 L67.27,581.24 L67.73,579.95 L68.2,579.42 L68.85,578.58 L69.5,578.32 L70,577.62 L70.5,576.46 L71,576.55 L71.5,575.34 L72,575.34 L72.5,574.38 L73,573.78 L73.5,574.17 L74,573.23 L74.5,572.97 L75,573.46 L75.5,573.07 L76,572.26 L76.5,572.71 L77,572.06 L77.5,571.98 L77.95,571.34 L78.4,571.91 L78.85,571.49 L79.3,571.6 L79.75,571.36 L80.2,570.4 L80.65,569.97 L81.1,569.6 L81.55,573.57 L82,569.81 L82.45,570.6 L82.9,569.43 L83.37,573.85 L83.84,568.65 L84.31,573.5 L84.79,569.13 L85.26,570.23 L85.73,570.11 L86.2,569.61 L86.69,569.9 L87.17,568.64 L87.66,569.39 L88.14,569.25 L88.63,573.07 L89.11,567.77 L89.6,568.72 L90.09,568.09 L90.57,568.42 L91.06,567.88 L91.54,567.31 L92.03,568.45 L92.51,571.08 L93,567.97 L93.49,567.33 L93.97,568.47 L94.46,571.22 L94.94,566.79 L95.43,568.36 L95.91,568.11 L96.4,567.86 L96.87,566.77 L97.34,566.81 L97.81,567.06 L98.29,568.43 L98.76,568.34 L99.23,567.32 L99.7,567.26 L100.19,567.09 L100.67,567.03 L101.16,568.18 L101.64,567.24 L102.13,566.41 L102.61,567.78 L103.1,566.92 L103.59,567.75 L104.07,567.53 L104.56,566.93 L105.04,566.76 L105.53,567.74 L106.01,566.79 L106.5,567.5 L106.97,566.27 L107.44,566.79 L107.91,567.25 L108.39,567.67 L108.86,567.11 L109.33,567.93 L109.8,567.2 L110.29,568.3 L110.77,568.57 L111.26,567.71 L111.74,567.06 L112.23,568.66 L112.71,568.23 L113.2,568.36 L113.69,568.5 L114.17,568.32 L114.66,568.28 L115.14,568.35 L115.63,567.17 L116.11,568.04 L116.6,567.64 L117.09,571.09 L117.57,569.55 L118.06,567.96 L118.54,570.33 L119.03,568.17 L119.51,568.64 L120,571.74 L120.5,568.07 L121,567.76 L121.5,571.21 L122,567.76 L122.5,568.26 L123,569.52 L123.5,568.45 L124,568.92 L124.5,567.93 L125,568.79 L125.5,569.62 L126,568.4 L126.5,567.69 L127,568.81 L127.5,567.94 L128,569.43 L128.5,568.5 L129,568.21 L129.5,568.37 L130,569.43 L130.5,568.13 L131,568.62 L131.5,568.28 L132,568.63 L132.5,568.62 L133,568.92 L133.5,568.27 L134,572.08 L134.5,568.28 L135,569.33 L135.5,568.34 L136,569.81 L136.5,569.08 L137,569.45 L137.5,573.94 L138,569.88 L138.5,570.88 L139,573.11 L139.5,573.97 L140.3,574.93 L141,575.83 L141.5,576.22 L142,571.66 L142.5,573.73 L143,575.29 L143.5,573.76 L144,572.73 L144.5,573.84 L145,571.39 L145.5,570.18 L146,572.24 L146.5,570.64 L147,572.96 L147.5,571.27 L148,571.29 L148.5,569.93 L149,574.41 L149.5,572.55 L150,575.25 L150.5,573.42 L151,575.93 L151.5,570.8 L152,573.72 L152.5,570.54 L153,573.46 L153.5,572.22 L154,570.45 L154.5,572.3 L155,572.8 L155.5,572.37 L156,569.91 L156.5,570.45 L157,570.96 L157.5,573.48 L158,569.37 L158.5,570.55 L159,570.56 L159.5,569.28 L160,569.07 L160.46,569.8 L160.92,568.47 L161.38,570.12 L161.84,569.77 L162.3,567.12 L162.87,567.91 L163.43,570.59 L164,572.43 L164.5,570.63 L165,569.81 L165.5,570.2 L166,573.92 L166.5,575.01 L167,573.08 L167.5,571.21 L168,572.15 L168.5,572.17 L169,572.32 L169.5,573" fill="none" stroke="#320808" stroke-width="3.0" stroke-linejoin="round"/>
<path d="M169.3,572 L169.8,578 L170,582.5" fill="none" stroke="#320808" stroke-width="1.6"/>
<g stroke="#333" stroke-width="1" fill="none">
<line x1="52.4" y1="527" x2="52.4" y2="642.1"/><line x1="52.4" y1="642.1" x2="175.6" y2="642.1"/>
<line x1="49.4" y1="528" x2="52.4" y2="528"/>
<line x1="49.4" y1="547.4" x2="52.4" y2="547.4"/>
<line x1="49.4" y1="566.8" x2="52.4" y2="566.8"/>
<line x1="49.4" y1="586.3" x2="52.4" y2="586.3"/>
<line x1="49.4" y1="605.6" x2="52.4" y2="605.6"/>
<line x1="49.4" y1="624.9" x2="52.4" y2="624.9"/>
<line x1="57.7" y1="642.1" x2="57.7" y2="645"/>
<line x1="94.9" y1="642.1" x2="94.9" y2="645"/>
<line x1="132" y1="642.1" x2="132" y2="645"/>
<line x1="169.3" y1="642.1" x2="169.3" y2="645"/>
</g>
<text x="46.6" y="531.3" text-anchor="end" font-size="9.3" fill="#3c3c3c" textLength="13.2" lengthAdjust="spacingAndGlyphs">500</text>
<text x="46.6" y="550.7" text-anchor="end" font-size="9.3" fill="#3c3c3c" textLength="13.2" lengthAdjust="spacingAndGlyphs">400</text>
<text x="46.6" y="570.1" text-anchor="end" font-size="9.3" fill="#3c3c3c" textLength="13.2" lengthAdjust="spacingAndGlyphs">300</text>
<text x="46.6" y="589.6" text-anchor="end" font-size="9.3" fill="#3c3c3c" textLength="13.2" lengthAdjust="spacingAndGlyphs">200</text>
<text x="46.6" y="608.9" text-anchor="end" font-size="9.3" fill="#3c3c3c" textLength="13.2" lengthAdjust="spacingAndGlyphs">100</text>
<text x="46.6" y="628.2" text-anchor="end" font-size="9.3" fill="#3c3c3c" textLength="4.4" lengthAdjust="spacingAndGlyphs">0</text>
<text x="57.7" y="655.6" text-anchor="middle" font-size="9.2" fill="#3c3c3c">0</text>
<text x="94.9" y="655.6" text-anchor="middle" font-size="9.2" fill="#3c3c3c">2</text>
<text x="132" y="655.6" text-anchor="middle" font-size="9.2" fill="#3c3c3c">4</text>
<text x="169.3" y="655.6" text-anchor="middle" font-size="9.2" fill="#3c3c3c">6</text>
<text x="114" y="668.5" text-anchor="middle" font-size="9.9" fill="#333">Perfusion time (hours)</text>
<text transform="translate(12.3,583.8) rotate(-90)" text-anchor="middle" font-size="10.05" fill="#333" y="3.6">Renal blood flow</text>
<text transform="translate(25,585.2) rotate(-90)" text-anchor="middle" font-size="10.1" fill="#333" y="3.6">(ml/min/100g)</text>
<text x="48.1" y="514.6" font-size="10" fill="#333">Renal blood flow: first 6 hours</text>
<path d="M235,571 L235.6,585 L236.5,597 L237.5,598 L239.2,593.8 L240.5,590.5 L242,588.2 L243.5,582 L244.5,577.7 L246,580 L247.6,582.6 L249.5,582 L251.1,581.2 L253,578 L254.6,575.6 L256,571 L257.4,568.3 L259,569 L260.9,569.3 L262.5,568 L264.4,567.2 L266.5,564 L268.6,560.9 L270.5,560 L272.8,558.8 L274,557 L275.6,556 L277.5,558 L279.1,559.5 L281,557 L282.6,554.6 L284.8,550.5 L286.8,547.6 L288,547.8 L289.6,549.5 L290.5,550.9 L292,553.5 L293.5,555.8 L295.5,554.5 L297.2,553.4 L299,550 L300.9,547.2 L302.5,549.5 L304,550.9 L306,549.5 L307.7,548.5 L310.2,550.3 L313.8,550.3 L315.5,547 L316.9,544.2 L320,544.2 L322.5,544.2 L323.7,548 L324.9,550.9 L327.4,550.3 L329.8,549.7 L331.5,546 L333.5,542.3 L335,545.5 L336.6,548.5 L339.7,549.7 L343.4,550.3 L346,549.5 L348.6,549.1 L348.6,571.8 L344.6,571.8 L340.9,571.8 L339,572.5 L337.2,573.1 L335.5,572 L333.5,571.2 L331.5,572.5 L329.8,574.3 L328.5,577.5 L327.4,579.8 L324.9,578.6 L323,577.5 L321.2,576.8 L319.5,575.5 L317.5,574.9 L315,576 L312.6,576.8 L308.9,576.2 L305,576.3 L303.1,576.2 L300,577.3 L297.7,580 L295.8,583.1 L293.1,581.5 L290,580.4 L287.7,580 L285.4,581.2 L281.5,584.6 L277.7,587.7 L273.8,591 L272,592.4 L267.2,595.3 L263.3,597.7 L259.3,600 L255.4,602.3 L252.3,605.5 L249.2,607.8 L246.1,611.7 L243.7,615.6 L241.4,620.3 L239.8,623.4 L237.5,624.2 L235.1,624.2 L235,612 Z" fill="#f8cacb"/>
<path d="M234.8,623 L234.9,570.5 L235.8,572 L236.2,623 Z" fill="#f6d2d2"/>
<line x1="235.1" y1="591.5" x2="235.2" y2="598.5" stroke="#8a6a6a" stroke-width="1.3"/>
<path d="M235.2,598.4 L235.6,603 L236.4,607.5 L237.5,609.8 L238.6,609.3 L239.8,607.8 L240.8,606.5 L241.8,604.7 L242.8,601.5 L243.7,598.4 L244.7,596.3 L245.7,595.3 L247.6,596.1 L249.2,595.8 L250.8,595.3 L252.2,594.3 L253.5,593 L254.5,591.2 L255.4,589.1 L256.6,586.7 L257.8,584.4 L260.2,583.7 L262,583.2 L263.7,582.6 L265.5,581 L267.2,579.1 L270,577 L272.8,575.6 L274.3,573.8 L275.6,572.1 L277.7,574.5 L280.5,572.8 L283.3,571.1 L285.4,568.6 L286.8,565 L288,562.6 L289.2,563.5 L290.5,565.1 L292,567 L293.5,568.2 L296,569.1 L298.5,565.1 L300.9,560.8 L303.4,562.6 L305.5,561.8 L307.1,561.4 L309.5,563.2 L311.5,563.4 L313.8,563.2 L315.7,562 L318.2,558.1 L320.6,559.5 L323.7,562.6 L325.5,564.5 L327.4,566.7 L328.5,564 L329.8,560.8 L331.5,557.5 L332.9,555.2 L334,556 L335.4,558.3 L337.8,562.6 L339.5,561.2 L340.9,560.5 L344.6,560.8 L346.5,560.3 L348.3,560.2" fill="none" stroke="#320808" stroke-width="2.3" stroke-linejoin="round" stroke-linecap="butt"/>
<g stroke="#333" stroke-width="1" fill="none">
<line x1="229.6" y1="526.7" x2="229.6" y2="642.1"/><line x1="229.6" y1="642.1" x2="353.8" y2="642.1"/>
<line x1="226.6" y1="556" x2="229.6" y2="556"/>
<line x1="226.6" y1="588.2" x2="229.6" y2="588.2"/>
<line x1="226.6" y1="620.6" x2="229.6" y2="620.6"/>
<line x1="235.3" y1="642.1" x2="235.3" y2="645"/>
<line x1="273" y1="642.1" x2="273" y2="645"/>
<line x1="310.7" y1="642.1" x2="310.7" y2="645"/>
<line x1="348.7" y1="642.1" x2="348.7" y2="645"/>
</g>
<text x="222.9" y="559.3" text-anchor="end" font-size="9.3" fill="#3c3c3c" textLength="10.6" lengthAdjust="spacingAndGlyphs">7.4</text>
<text x="222.9" y="591.5" text-anchor="end" font-size="9.3" fill="#3c3c3c" textLength="10.6" lengthAdjust="spacingAndGlyphs">7.2</text>
<text x="222.9" y="623.9" text-anchor="end" font-size="9.3" fill="#3c3c3c" textLength="10.6" lengthAdjust="spacingAndGlyphs">7.0</text>
<text x="235.3" y="655.6" text-anchor="middle" font-size="9.2" fill="#3c3c3c">0</text>
<text x="273" y="655.6" text-anchor="middle" font-size="9.2" fill="#3c3c3c">2</text>
<text x="310.7" y="655.6" text-anchor="middle" font-size="9.2" fill="#3c3c3c">4</text>
<text x="348.7" y="655.6" text-anchor="middle" font-size="9.2" fill="#3c3c3c">6</text>
<text x="291.8" y="668.5" text-anchor="middle" font-size="9.8" fill="#333">Perfusion time (hours)</text>
<text transform="translate(202.4,584.5) rotate(-90)" text-anchor="middle" font-size="10" fill="#333" y="3.6">pH</text>
<text x="230" y="515" font-size="10.15" fill="#333">Arterial pH during perfusion</text>
<text x="27.1" y="16.7" font-size="12.2" font-weight="bold" fill="#111">A</text>
<text x="28" y="268.1" font-size="12.2" font-weight="bold" fill="#111">B</text>
<text x="14" y="514.6" font-size="12.2" font-weight="bold" fill="#111">C</text>
<text x="196.1" y="514.6" font-size="12.2" font-weight="bold" fill="#111">D</text>
<text x="370.4" y="515" font-size="12.2" font-weight="bold" fill="#111">E</text>
<rect x="0" y="0" width="520" height="1.2" fill="#484848"/><rect x="0" y="676.8" width="520" height="1.2" fill="#3c3c3c"/><rect x="0" y="0" width="1.2" height="678" fill="#585858"/><rect x="518.8" y="0" width="1.2" height="678" fill="#484848"/></svg>
</body></html>
